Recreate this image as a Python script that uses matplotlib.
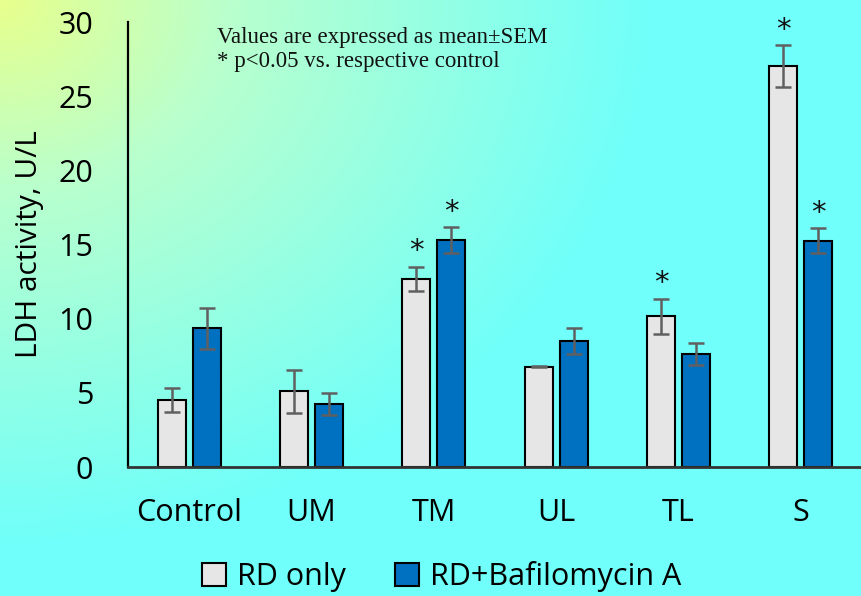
import matplotlib.pyplot as plt
import numpy as np

categories = ['Control', 'UM', 'TM', 'UL', 'TL', 'S']
rd_only = [4.5, 5.1, 12.7, 6.75, 10.15, 27.05]
rd_only_sem = [0.8, 1.45, 0.8, 0.03, 1.2, 1.4]
rd_baf = [9.35, 4.25, 15.3, 8.5, 7.6, 15.25]
rd_baf_sem = [1.4, 0.75, 0.85, 0.85, 0.75, 0.85]
sig_rd = [False, False, True, False, True, True]
sig_baf = [False, False, True, False, False, True]

fig = plt.figure(figsize=(8.62, 5.96), dpi=100)

# diagonal background wash, yellow-green in the top-left going to cyan
bg = fig.add_axes([0, 0, 1, 1], zorder=-10)
h, w = 596, 862
yy, xx = np.mgrid[0:h, 0:w]
d = np.clip(np.sqrt(xx ** 2 + (yy * 1.2) ** 2) / 650.0, 0, 1)
stops = np.array([0.0, 0.35, 1.0])
c_r = np.interp(d, stops, [232, 185, 112])
c_g = np.interp(d, stops, [255, 255, 255])
c_b = np.interp(d, stops, [140, 205, 250])
img = np.dstack([c_r, c_g, c_b]) / 255.0
bg.imshow(img, aspect='auto', extent=[0, 1, 0, 1])
bg.axis('off')

ax = fig.add_axes([0.1485, 0.2164, 0.8515, 0.7466])
ax.patch.set_alpha(0)

x = np.arange(len(categories))
off = 0.143
bw = 0.23
err_kw = dict(ecolor='#606060', elinewidth=1.8, capsize=6, capthick=1.8)
ax.bar(x - off, rd_only, bw, yerr=rd_only_sem, color='#E7E6E6',
       edgecolor='black', linewidth=1.5, error_kw=err_kw, label='RD only')
ax.bar(x + off, rd_baf, bw, yerr=rd_baf_sem, color='#0070C0',
       edgecolor='black', linewidth=1.5, error_kw=err_kw, label='RD+Bafilomycin A')

for i in range(len(categories)):
    if sig_rd[i]:
        ax.text(x[i] - off, rd_only[i] + rd_only_sem[i] + 0.1, '*',
                ha='center', va='bottom', fontsize=21, color='#111111')
    if sig_baf[i]:
        ax.text(x[i] + off, rd_baf[i] + rd_baf_sem[i] + 0.1, '*',
                ha='center', va='bottom', fontsize=21, color='#111111')

ax.set_xlim(-0.5, 5.5)
ax.set_ylim(0, 30)
ax.set_yticks([0, 5, 10, 15, 20, 25, 30])
ax.set_xticks(x)
ax.set_xticklabels(categories)
ax.tick_params(axis='both', length=0, labelsize=22)
ax.tick_params(axis='y', pad=25)
ax.tick_params(axis='x', pad=22)
for lab in ax.get_xticklabels() + ax.get_yticklabels():
    lab.set_fontfamily('Open Sans')
ax.set_ylabel('LDH activity, U/L', fontsize=21.5, family='Open Sans', labelpad=10)

for s in ['top', 'right']:
    ax.spines[s].set_visible(False)
ax.spines['left'].set_linewidth(1.6)
ax.spines['left'].set_color('black')
ax.spines['bottom'].set_linewidth(2)
ax.spines['bottom'].set_color('#333333')

ax.text(0.121, 0.99, 'Values are expressed as mean\u00b1SEM\n* p<0.05 vs. respective control',
        transform=ax.transAxes, ha='left', va='top', fontsize=16.5,
        family='Liberation Serif', linespacing=1.2, color='#111111')

fig.legend(loc='center', bbox_to_anchor=(0.512, 0.032), ncol=2, frameon=False,
           prop={'family': 'Open Sans', 'size': 22}, handlelength=0.8,
           handleheight=0.8, handletextpad=0.35, columnspacing=1.6)

fig.savefig('out.png', dpi=100)
